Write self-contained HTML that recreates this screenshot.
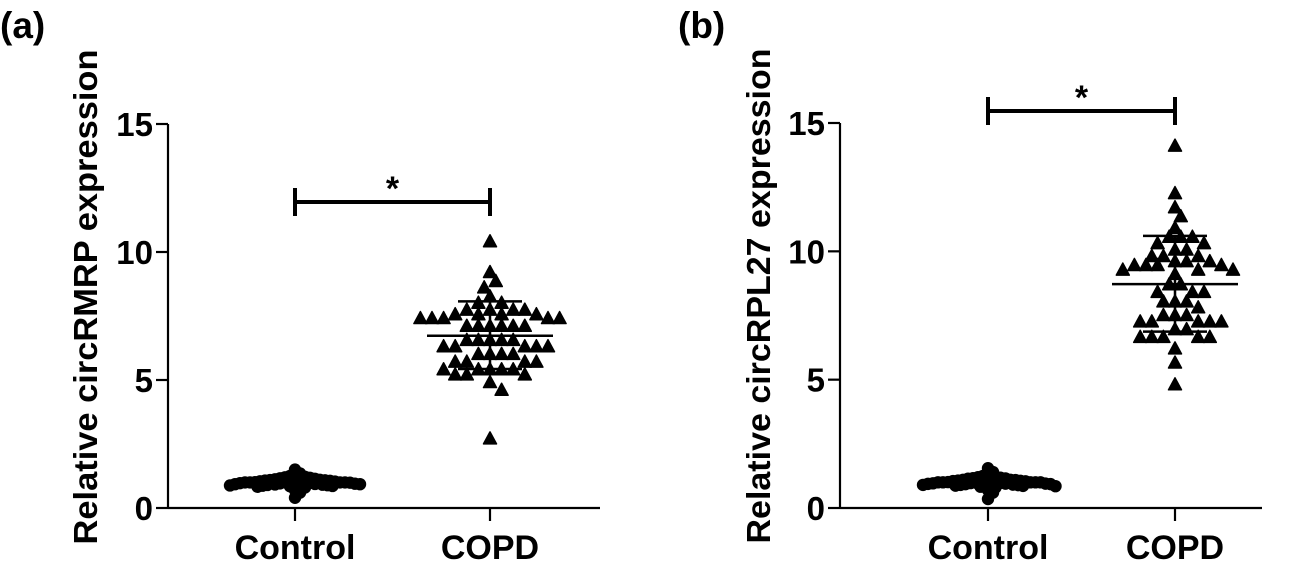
<!DOCTYPE html>
<html><head><meta charset="utf-8">
<style>
html,body{margin:0;padding:0;background:#fff;}
svg{display:block;font-family:"Liberation Sans",Arial,sans-serif;font-weight:bold;}
</style></head>
<body>
<svg id="chart" width="1301" height="562" viewBox="0 0 1301 562"></svg>
<script>
// ---------- data ----------
const categories = ["Control", "COPD"];
const yTicks = [0, 5, 10, 15];
const controlA = [0.95,1.0,0.9,1.05,1.1,0.85,0.92,1.0,1.2,1.15,0.88,0.97,1.03,1.08,0.93,1.12,1.25,1.3,1.5,0.4,0.7,0.8,1.0,0.98,1.06,0.9,1.1,0.87,0.95,1.02,1.18,1.22,0.83,0.91,1.0,1.04,0.96,1.14,0.89,1.07,0.94,0.99,1.35,0.6,1.01,0.86,1.09,0.93,1.16,1.0];
const copdA = [10.4,9.2,8.85,8.6,8.25,8.0,8.0,7.73,7.73,7.73,7.73,7.55,7.55,7.55,7.55,7.4,7.4,7.4,7.4,7.4,7.1,7.1,7.1,7.1,7.1,7.1,6.55,6.55,6.55,6.55,6.55,6.3,6.3,6.3,6.3,6.3,6.0,6.0,6.0,6.0,5.7,5.7,5.7,5.7,5.4,5.4,5.4,5.4,5.4,5.2,5.2,5.2,4.9,4.6,2.7];
const statsA = {mean: 6.73, sdHigh: 8.07, sdLow: 5.43};
const controlB = [0.95,1.0,0.9,1.05,1.1,0.85,0.92,1.0,1.2,1.15,0.88,0.97,1.03,1.08,0.93,1.12,1.25,1.3,1.55,0.35,0.7,0.8,1.0,0.98,1.06,0.9,1.1,0.87,0.95,1.02,1.18,1.22,0.83,0.91,1.0,1.04,0.96,1.14,0.89,1.07,0.94,0.99,1.4,0.6,1.01,0.86,1.09,0.93,1.16,1.0];
const copdB = [14.1,12.25,11.7,11.35,10.9,10.55,10.55,10.55,10.3,10.3,10.05,10.05,9.8,9.8,9.8,9.6,9.6,9.6,9.45,9.45,9.45,9.45,9.27,9.27,9.27,9.1,8.7,8.7,8.4,8.4,8.4,8.03,8.03,8.03,7.8,7.5,7.5,7.5,7.25,7.25,7.25,7.25,7.25,6.95,6.95,6.65,6.65,6.65,6.65,6.65,6.2,5.65,4.8];
const statsB = {mean: 8.72, sdHigh: 10.6, sdLow: 6.87};

const NS = "http://www.w3.org/2000/svg";
const svg = document.getElementById("chart");
function mk(tag, attrs, parent){
  const e = document.createElementNS(NS, tag);
  for (const k in attrs) e.setAttribute(k, attrs[k]);
  (parent||svg).appendChild(e);
  return e;
}

function panel(cfg){
  const g = mk("g", {});
  
  
  const y = v => cfg.y0 - v * (cfg.y0 - cfg.y15) / 15;
  const xc = [cfg.xCtrl, cfg.xCopd];

  const lbl = mk("text", {x: cfg.labelX, y: 38, "font-size": 37, fill: "#000"}, g);
  lbl.textContent = cfg.letter;
  
  

  const ax = mk("line", {x1: cfg.ax, y1: y(15), x2: cfg.ax, y2: cfg.y0, stroke: "#000", "stroke-width": 2.2}, g);
  
  
  yTicks.forEach(t => {
    const tk = mk("line", {x1: cfg.ax - 12, y1: y(t), x2: cfg.ax, y2: y(t), stroke: "#000", "stroke-width": 2.2}, g);
    
    
    const tl = mk("text", {x: cfg.ax - 15, y: y(t) + 12, "font-size": 33, "text-anchor": "end", fill: "#000"}, g);
    tl.textContent = t;
    
    
  });
  const tt = mk("text", {x: 0, y: 0, "font-size": 33, "text-anchor": "middle", fill: "#000",
    textLength: 495, lengthAdjust: "spacingAndGlyphs",
    transform: `translate(${cfg.titleX},${cfg.titleY}) rotate(-90)`}, g);
  tt.textContent = cfg.title;
  
  

  const xa = mk("line", {x1: cfg.ax, y1: cfg.y0, x2: cfg.axEnd, y2: cfg.y0, stroke: "#000", "stroke-width": 2.2}, g);
  
  
  categories.forEach((c, i) => {
    const tk = mk("line", {x1: xc[i], y1: cfg.y0, x2: xc[i], y2: cfg.y0 + 13, stroke: "#000", "stroke-width": 2.2}, g);
    
    
    const tl = mk("text", {x: xc[i], y: 559, "font-size": 34, "text-anchor": "middle", fill: "#000"}, g);
    tl.textContent = c;
    
    
  });

  function swarm(vals, cx, d, step){
    const placed = [];
    const order = vals.map((v, i) => i).sort((a, b) => vals[b] - vals[a]);
    const out = [];
    order.forEach(i => {
      const py = y(vals[i]);
      let best = 0;
      for (let k = 0; k < 60; k++) {
        const cands = k === 0 ? [0] : [k * step, -k * step];
        let ok = null;
        for (const off of cands) {
          if (placed.every(p => Math.hypot(p[0] - (cx + off), p[1] - py) >= d)) { ok = off; break; }
        }
        if (ok !== null) { best = ok; break; }
      }
      placed.push([cx + best, py]);
      out.push([cx + best, py]);
    });
    return out;
  }
  swarm(cfg.ctrl, xc[0], 5, 2.5).forEach(p => {
    const c = mk("circle", {cx: p[0], cy: p[1], r: 6.2, fill: "#000"}, g);
    
    
  });
  swarm(cfg.copd, xc[1], 10.5, 5.8).forEach(p => {
    const t = mk("polygon", {points: `${p[0]},${p[1]-7} ${p[0]-6.5},${p[1]+5} ${p[0]+6.5},${p[1]+5}`, fill: "#000", "stroke": "#000", "stroke-width": 1.5, "stroke-linejoin": "round"}, g);
    
    
  });

  const s = cfg.stats, cx = xc[1];
  const eb = mk("g", {stroke: "#000", "stroke-width": 2.5}, g);
  
  
  mk("line", {x1: cx - 63, y1: y(s.mean), x2: cx + 63, y2: y(s.mean)}, eb);
  mk("line", {x1: cx, y1: y(s.sdHigh), x2: cx, y2: y(s.sdLow)}, eb);
  mk("line", {x1: cx - 32, y1: y(s.sdHigh), x2: cx + 32, y2: y(s.sdHigh)}, eb);
  mk("line", {x1: cx - 32, y1: y(s.sdLow), x2: cx + 32, y2: y(s.sdLow)}, eb);

  const sg = mk("g", {stroke: "#000", "stroke-width": 4}, g);
  
  
  mk("line", {x1: xc[0], y1: cfg.sigY, x2: xc[1], y2: cfg.sigY}, sg);
  mk("line", {x1: xc[0], y1: cfg.sigY - 14, x2: xc[0], y2: cfg.sigY + 14}, sg);
  mk("line", {x1: xc[1], y1: cfg.sigY - 14, x2: xc[1], y2: cfg.sigY + 14}, sg);
  const st = mk("text", {x: (xc[0] + xc[1]) / 2, y: cfg.sigY - 2, "font-size": 34, "text-anchor": "middle", fill: "#000"}, g);
  st.textContent = "*";
  
  
}

panel({name: "panel-a", letter: "(a)", labelX: 0, ax: 168, axEnd: 600, y0: 508, y15: 124,
  xCtrl: 295, xCopd: 490, titleX: 97, titleY: 297, title: "Relative circRMRP expression",
  ctrl: controlA, copd: copdA, stats: statsA, sigY: 202});
panel({name: "panel-b", letter: "(b)", labelX: 678, ax: 840, axEnd: 1262, y0: 508, y15: 123,
  xCtrl: 988, xCopd: 1175, titleX: 770, titleY: 296, title: "Relative circRPL27 expression",
  ctrl: controlB, copd: copdB, stats: statsB, sigY: 111});
</script>
</body></html>
